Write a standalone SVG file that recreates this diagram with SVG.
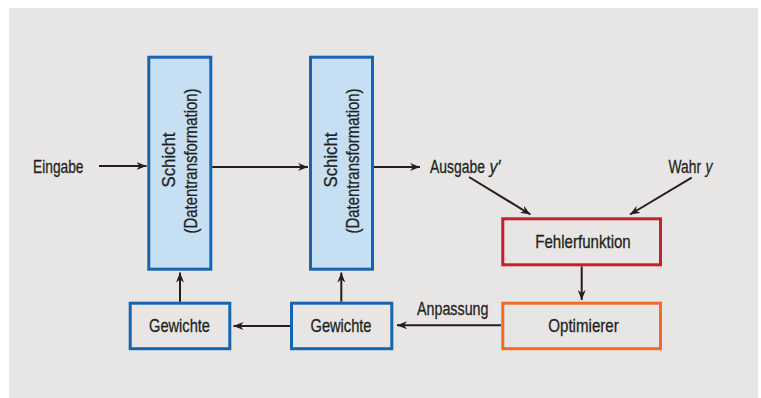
<svg xmlns="http://www.w3.org/2000/svg" width="761" height="398" viewBox="0 0 761 398">
<defs>
<style>
text{font-family:"Liberation Sans Narrow","Liberation Sans",Arial,sans-serif;font-size:19px;fill:#231f20;stroke:#231f20;stroke-width:0.3px;}
.c{text-anchor:middle;}
.i{font-style:italic;}
.layer{fill:#c6dff3;stroke:#1565b0;stroke-width:3;}
.w{fill:none;stroke:#1565b0;stroke-width:3;}
.err{fill:none;stroke:#c61f2e;stroke-width:3;}
.opt{fill:none;stroke:#f26b27;stroke-width:3;}
.cn line{stroke:#231f20;stroke-width:2;marker-end:url(#ah);}
</style>
<marker id="ah" viewBox="0 0 10 8" refX="10" refY="4" markerWidth="10" markerHeight="8" markerUnits="userSpaceOnUse" orient="auto">
<path d="M0,0 L10,4 L0,8 L3,4 z" fill="#231f20"/>
</marker>
</defs>
<rect x="9" y="8" width="749" height="390" fill="#e7e6e5"/>
<g id="eingabe"><text x="33" y="172.5" textLength="50.5" lengthAdjust="spacingAndGlyphs">Eingabe</text></g>
<g id="schicht1">
<rect class="layer" x="148.8" y="57.2" width="62" height="212"/>
<text class="c" transform="translate(175,160) rotate(-90)" textLength="55" lengthAdjust="spacingAndGlyphs">Schicht</text>
<text class="c" transform="translate(196.5,161) rotate(-90)" textLength="145" lengthAdjust="spacingAndGlyphs">(Datentransformation)</text>
</g>
<g id="schicht2">
<rect class="layer" x="310.5" y="57.2" width="62" height="212"/>
<text class="c" transform="translate(337,160) rotate(-90)" textLength="55" lengthAdjust="spacingAndGlyphs">Schicht</text>
<text class="c" transform="translate(358.5,161) rotate(-90)" textLength="145" lengthAdjust="spacingAndGlyphs">(Datentransformation)</text>
</g>
<g id="ausgabe">
<text transform="translate(430,172.5) scale(0.733,1)">Ausgabe</text>
<text class="i" x="489.5" y="172.5" textLength="11" lengthAdjust="spacingAndGlyphs">y′</text>
</g>
<g id="wahr">
<text transform="translate(668.5,172.5) scale(0.727,1)">Wahr</text>
<text class="i" x="705.5" y="172.5" textLength="7" lengthAdjust="spacingAndGlyphs">y</text>
</g>
<g id="fehlerfunktion">
<rect class="err" x="502.8" y="218.8" width="157.7" height="46"/>
<text class="c" x="583" y="247.5" textLength="95.5" lengthAdjust="spacingAndGlyphs">Fehlerfunktion</text>
</g>
<g id="optimierer">
<rect class="opt" x="502.8" y="303.2" width="157.7" height="45.5"/>
<text class="c" x="583.5" y="332" textLength="70.5" lengthAdjust="spacingAndGlyphs">Optimierer</text>
</g>
<g id="gewichte1">
<rect class="w" x="130.2" y="303.2" width="99.6" height="45.5"/>
<text class="c" x="179.5" y="332" textLength="61" lengthAdjust="spacingAndGlyphs">Gewichte</text>
</g>
<g id="gewichte2">
<rect class="w" x="291.5" y="303.2" width="100.3" height="45.5"/>
<text class="c" x="341" y="332" textLength="61" lengthAdjust="spacingAndGlyphs">Gewichte</text>
</g>
<g id="anpassung"><text x="417" y="315" textLength="71.5" lengthAdjust="spacingAndGlyphs">Anpassung</text></g>
<g class="cn" id="connectors">
<line x1="99" y1="166" x2="146.5" y2="166"/>
<line x1="212.3" y1="167" x2="308" y2="167"/>
<line x1="374" y1="167" x2="420" y2="167"/>
<line x1="469" y1="177" x2="530.5" y2="214.5"/>
<line x1="691.7" y1="177.7" x2="630" y2="214.5"/>
<line x1="581.7" y1="266.5" x2="581.7" y2="300"/>
<line x1="501" y1="325.3" x2="397" y2="325.3"/>
<line x1="290" y1="326" x2="233.5" y2="326"/>
<line x1="180" y1="301.7" x2="180" y2="272.5"/>
<line x1="341.3" y1="301.7" x2="341.3" y2="272.5"/>
</g>
</svg>
